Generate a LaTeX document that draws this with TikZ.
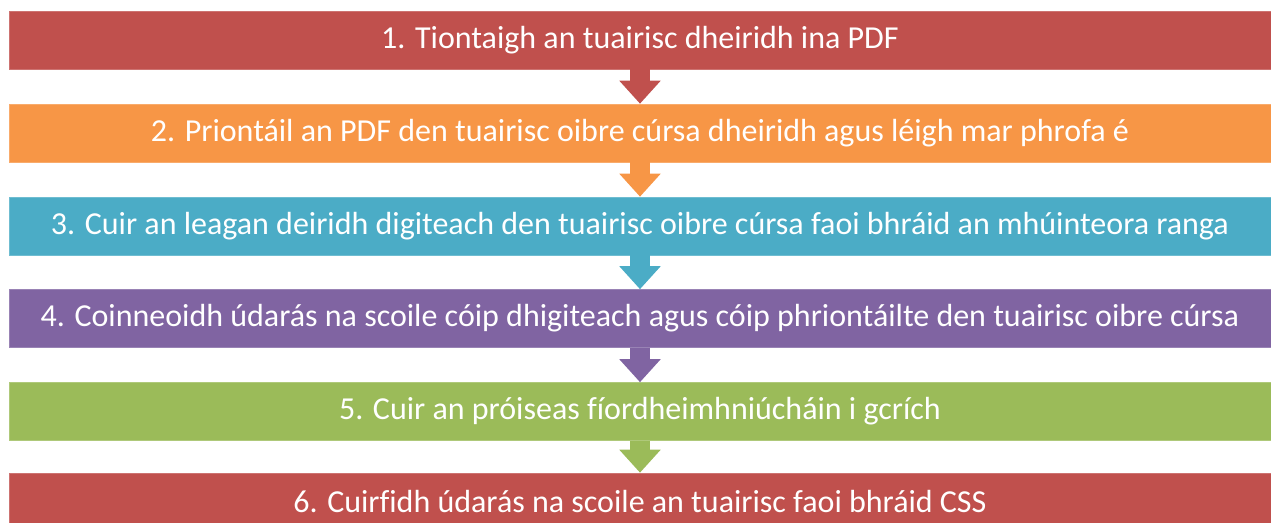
\documentclass[tikz,border=0pt]{standalone}
\usepackage{fontspec}
\setmainfont{Carlito}[Ligatures={NoCommon}]
\usetikzlibrary{arrows.meta}
\definecolor{cred}{HTML}{C0504D}
\definecolor{corange}{HTML}{F79646}
\definecolor{cblue}{HTML}{4BACC6}
\definecolor{cpurple}{HTML}{8064A2}
\definecolor{cgreen}{HTML}{9BBB59}
\tikzset{
  stepbox/.style={fill=#1, draw=#1!80!white, line width=0.6pt, minimum width=1262pt, minimum height=58pt,
    inner sep=0pt, text=white, font=\fontsize{32}{37}\selectfont, anchor=center},
  flowarrow/.style={draw=#1, line width=20pt, -{Triangle[width=40pt,length=23pt]}, shorten >=0pt}
}
\begin{document}
\begin{tikzpicture}[x=1pt,y=1pt]
\useasboundingbox (0,0) rectangle (1271,522);
\clip (0,0) rectangle (1271,522);
\node[stepbox=cred]    (b1) at (640,482) {1. Tiontaigh an tuairisc dheiridh ina PDF};
\node[stepbox=corange] (b2) at (640,389) {2. Priontáil an PDF den tuairisc oibre cúrsa dheiridh agus léigh mar phrofa é};
\node[stepbox=cblue]   (b3) at (640,296) {3. Cuir an leagan deiridh digiteach den tuairisc oibre cúrsa faoi bhráid an mhúinteora ranga};
\node[stepbox=cpurple] (b4) at (640,203.5) {4. Coinneoidh údarás na scoile cóip dhigiteach agus cóip phriontáilte den tuairisc oibre cúrsa};
\node[stepbox=cgreen]  (b5) at (640,110.5) {5. Cuir an próiseas fíordheimhniúcháin i gcrích};
\node[stepbox=cred]    (b6) at (640,20) {6. Cuirfidh údarás na scoile an tuairisc faoi bhráid CSS};
\draw[flowarrow=cred]    (b1.south) -- (b2.north);
\draw[flowarrow=corange] (b2.south) -- (b3.north);
\draw[flowarrow=cblue]   (b3.south) -- (b4.north);
\draw[flowarrow=cpurple] (b4.south) -- (b5.north);
\draw[flowarrow=cgreen]  (b5.south) -- (b6.north);
\end{tikzpicture}
\end{document}
